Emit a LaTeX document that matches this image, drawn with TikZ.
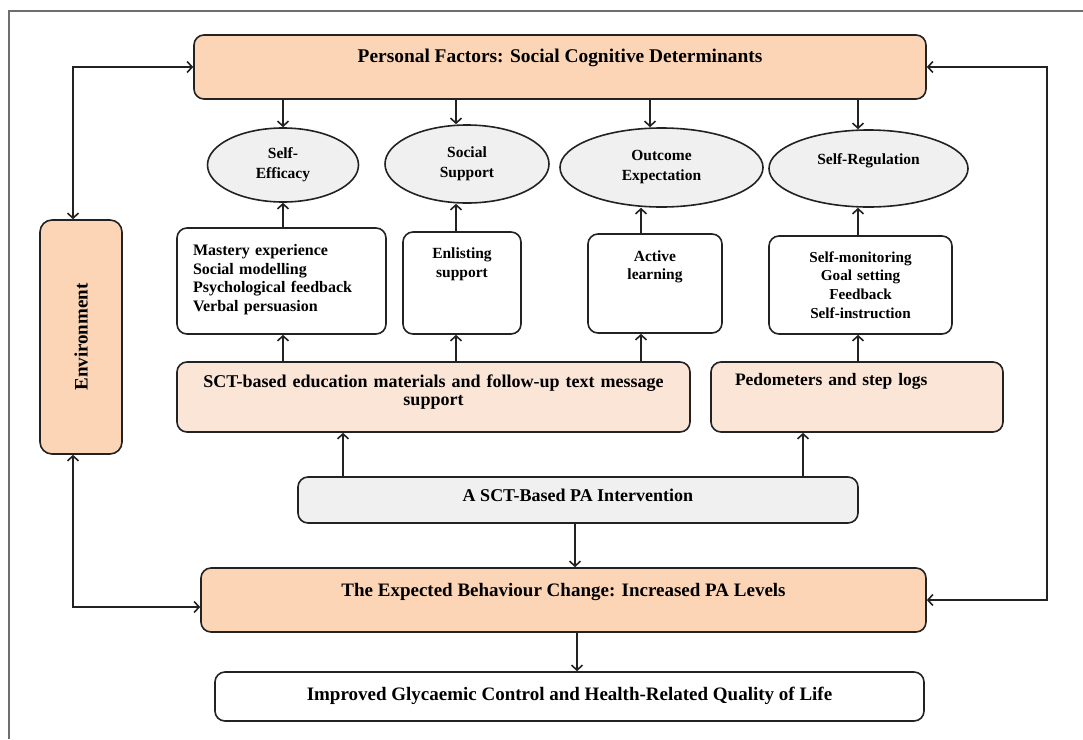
\documentclass[tikz,border=0pt]{standalone}
\usepackage{fontspec}
\setmainfont{Liberation Serif}
\usetikzlibrary{arrows.meta,shapes.geometric}
\definecolor{peach}{HTML}{FBD5B5}
\definecolor{lpeach}{HTML}{FBE5D6}
\definecolor{lgray}{HTML}{F0F0F0}
\definecolor{framegray}{HTML}{6E6E6E}
\definecolor{ink}{HTML}{222222}
\begin{document}
\begin{tikzpicture}[x=1pt,y=-1pt,
  box/.style={draw=ink, line width=1.6pt, rounded corners=10pt, inner sep=0pt, font=\bfseries},
  oval/.style={draw=ink, line width=1.6pt, ellipse, fill=lgray, inner sep=0pt, align=center,
    font=\bfseries\fontsize{15.5}{20}\selectfont},
  arr/.style={draw=ink, line width=1.6pt, -{Straight Barb[length=5pt,width=11pt]}},
  darr/.style={draw=ink, line width=1.6pt, {Straight Barb[length=5pt,width=11pt]}-{Straight Barb[length=5pt,width=11pt]}}
]
\useasboundingbox (0,0) rectangle (1083,739);
\draw[framegray, line width=1.5pt] (9,739) -- (9,11) -- (1083,11);

% top
\node[box, fill=peach, minimum width=732pt, minimum height=64pt, text height=27.4pt, text depth=36.6pt,
  font=\bfseries\fontsize{19.4}{23}\selectfont] (pf) at (560,67) {Personal Factors: Social Cognitive Determinants};

% ellipses
\node[oval, minimum width=151pt, minimum height=74pt] (se) at (283,165) {Self-\\Efficacy};
\node[oval, minimum width=164pt, minimum height=78pt] (ss) at (467,164) {Social\\Support};
\node[oval, minimum width=203pt, minimum height=79pt] (oe) at (661.5,167.5) {Outcome\\Expectation};
\node[oval, minimum width=199pt, minimum height=77pt, text height=11pt, text depth=19.6pt] (sr) at (868.5,168.5) {Self-Regulation};

% technique boxes
\node[box, fill=white, minimum width=209pt, minimum height=106pt, inner xsep=16pt, text width=177pt, align=left,
  text height=27.3pt, text depth=78.7pt, font=\bfseries\fontsize{16}{18.7}\selectfont] (me) at (281.5,281)
  {Mastery experience\\Social modelling\\Psychological feedback\\Verbal persuasion};
\node[box, fill=white, minimum width=118pt, minimum height=102pt, inner xsep=6pt, text width=106pt, align=center,
  text height=26pt, text depth=76pt, font=\bfseries\fontsize{15.5}{19}\selectfont] (es) at (462,283)
  {Enlisting\\support};
\node[box, fill=white, minimum width=134pt, minimum height=99pt, inner xsep=6pt, text width=122pt, align=center,
  text height=27pt, text depth=72pt, font=\bfseries\fontsize{15.5}{18.5}\selectfont] (al) at (655,283.5)
  {Active\\learning};
\node[box, fill=white, minimum width=183pt, minimum height=98pt, inner xsep=6pt, text width=171pt, align=center,
  text height=26pt, text depth=72pt, font=\bfseries\fontsize{15.2}{18.7}\selectfont] (sm) at (860.5,285)
  {Self-monitoring\\Goal setting\\Feedback\\Self-instruction};

% materials
\node[box, fill=lpeach, minimum width=513pt, minimum height=70pt, inner xsep=8pt, text width=497pt, align=center,
  text height=25pt, text depth=45pt, font=\bfseries\fontsize{18}{18}\selectfont] (sct) at (433.5,397)
  {SCT-based education materials and follow-up text message\\support};
\node[box, fill=lpeach, minimum width=292pt, minimum height=70pt, inner xsep=24pt, text width=244pt, align=left,
  text height=23pt, text depth=47pt, font=\bfseries\fontsize{17.5}{20}\selectfont] (ped) at (857,397)
  {Pedometers and step logs};

% environment
\node[box, fill=peach, rounded corners=12pt, rotate=90, minimum width=234pt, minimum height=82pt,
  font=\bfseries\fontsize{19}{23}\selectfont] (env) at (81,337) {Environment};

% bottom
\node[box, fill=lgray, minimum width=560pt, minimum height=46pt, text height=24pt, text depth=22pt,
  font=\bfseries\fontsize{18}{22}\selectfont] (int) at (578,500) {A SCT-Based PA Intervention};
\node[box, fill=peach, minimum width=725pt, minimum height=64pt, text height=28pt, text depth=36pt,
  font=\bfseries\fontsize{19}{23}\selectfont] (eb) at (563.5,600) {The Expected Behaviour Change: Increased PA Levels};
\node[box, fill=white, minimum width=709pt, minimum height=49pt, text height=28pt, text depth=21pt,
  font=\bfseries\fontsize{19}{23}\selectfont] (imp) at (569.5,696.5) {Improved Glycaemic Control and Health-Related Quality of Life};

% column x positions
\coordinate (c2) at (456,0);
\coordinate (c3a) at (650,0);
\coordinate (c3b) at (641,0);
\coordinate (c4) at (858,0);
\coordinate (c5) at (343,0);
\coordinate (c6) at (803,0);
\coordinate (c7) at (575,0);
\coordinate (c8) at (577,0);
\coordinate (rx) at (1047,0);

% personal factors to determinants
\draw[arr] (pf.south -| se.north) -- (se.north);
\draw[arr] (pf.south -| c2) -- (ss.north -| c2);
\draw[arr] (pf.south -| c3a) -- (oe.north -| c3a);
\draw[arr] (pf.south -| c4) -- (sr.north -| c4);

% techniques to determinants
\draw[arr] (me.north -| se.south) -- (se.south);
\draw[arr] (es.north -| c2) -- (ss.south -| c2);
\draw[arr] (al.north -| c3b) -- (oe.south -| c3b);
\draw[arr] (sm.north -| c4) -- (sr.south -| c4);

% materials to techniques
\draw[arr] (sct.north -| se.south) -- (me.south -| se.south);
\draw[arr] (sct.north -| c2) -- (es.south -| c2);
\draw[arr] (sct.north -| c3b) -- (al.south -| c3b);
\draw[arr] (ped.north -| c4) -- (sm.south -| c4);

% intervention
\draw[arr] (int.north -| c5) -- (sct.south -| c5);
\draw[arr] (int.north -| c6) -- (ped.south -| c6);
\draw[arr] (int.south -| c7) -- (eb.north -| c7);
\draw[arr] (eb.south -| c8) -- (imp.north -| c8);

% environment loops
\draw[darr] (pf.west) -| ([xshift=-8pt]env.east);
\draw[darr] ([xshift=-8pt]env.west) |- ([yshift=-7pt]eb.west);
\draw[darr] (pf.east) -- (pf.east -| rx) -- (eb.east -| rx) -- (eb.east);
\end{tikzpicture}
\end{document}
